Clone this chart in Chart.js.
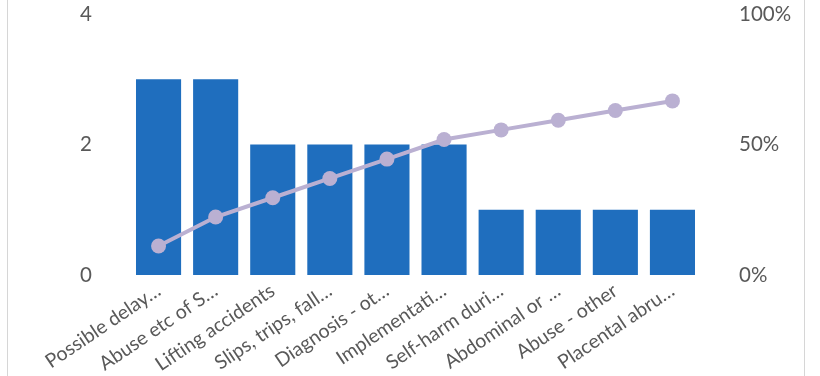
<!DOCTYPE html>
<html>
<head>
<meta charset="utf-8">
<script src="https://cdn.jsdelivr.net/npm/chart.js@4"></script>
<style>
	body { margin: 0; background: #fff; }
	.frame { position: relative; width: 820px; height: 376px; }
	.frame .edge {
		position: absolute; top: 0; left: 7px; width: 796px; height: 376px;
		border-left: 1.5px solid #d6d6d6; border-right: 1.5px solid #d6d6d6;
		pointer-events: none;
	}
</style>
</head>
<body>
<div class="frame">
	<canvas id="pareto_chart" width="820" height="376"></canvas>
	<div class="edge"></div>
</div>
<script>
// categories (already shortened as shown on the axis)
const categories = [
	"Possible delay…",
	"Abuse etc of S…",
	"Lifting accidents",
	"Slips, trips, fall…",
	"Diagnosis - ot…",
	"Implementati…",
	"Self-harm duri…",
	"Abdominal or …",
	"Abuse - other",
	"Placental abru…",
];

// counts per category
const counts = [3, 3, 2, 2, 2, 2, 1, 1, 1, 1];

// cumulative share of all incidents (0..1)
const cumulative = [0.111, 0.222, 0.296, 0.370, 0.444, 0.519, 0.556, 0.593, 0.630, 0.667];

// axis ticks
const count_ticks = [0, 2, 4];
const percent_ticks = [0, 0.5, 1];

const ctx = document.getElementById("pareto_chart").getContext("2d");
const font_family = "Lato, 'Open Sans', sans-serif";
const text_color = "#595959";

let my_chart = new Chart(ctx, {
	type: "bar",
	data: {
		labels: categories,
		datasets: [
			{
				type: "line",
				label: "Cumulative",
				data: cumulative,
				yAxisID: "y1",
				borderColor: "#bab0d2",
				backgroundColor: "#bab0d2",
				borderWidth: 4,
				pointRadius: 7.5,
				pointHoverRadius: 7.5,
				pointBorderWidth: 0,
				order: 0,
			},
			{
				label: "Count",
				data: counts,
				yAxisID: "y",
				backgroundColor: "#1f6ebe",
				categoryPercentage: 1,
				barPercentage: 0.79,
				order: 1,
			},
		],
	},
	options: {
		responsive: false,
		animation: false,
		layout: { padding: { top: 14, left: 0, right: 0, bottom: 0 } },
		plugins: {
			legend: { display: false },
			tooltip: { enabled: false },
		},
		scales: {
			x: {
				grid: { display: false },
				border: { display: false },
				afterFit: (scale) => { scale.height = 101; },
				ticks: {
					autoSkip: false,
					minRotation: 34,
					maxRotation: 34,
					padding: -4,
					color: text_color,
					font: { family: font_family, size: 19.5 },
				},
			},
			y: {
				position: "left",
				min: 0,
				max: 4,
				// tick length only spaces the labels away from the plot
				grid: { display: false, tickLength: 38 },
				border: { display: false },
				afterFit: (scale) => { scale.width = 130; },
				afterBuildTicks: (scale) => { scale.ticks = count_ticks.map((v) => ({ value: v })); },
				ticks: {
					padding: 0,
					color: text_color,
					font: { family: font_family, size: 20.5 },
				},
			},
			y1: {
				position: "right",
				min: 0,
				max: 1,
				grid: { display: false, tickLength: 38 },
				border: { display: false },
				afterFit: (scale) => { scale.width = 119; },
				afterBuildTicks: (scale) => { scale.ticks = percent_ticks.map((v) => ({ value: v })); },
				ticks: {
					padding: 0,
					color: text_color,
					font: { family: font_family, size: 20.5 },
					callback: (v) => Math.round(v * 100) + "%",
				},
			},
		},
	},
});
</script>
</body>
</html>
